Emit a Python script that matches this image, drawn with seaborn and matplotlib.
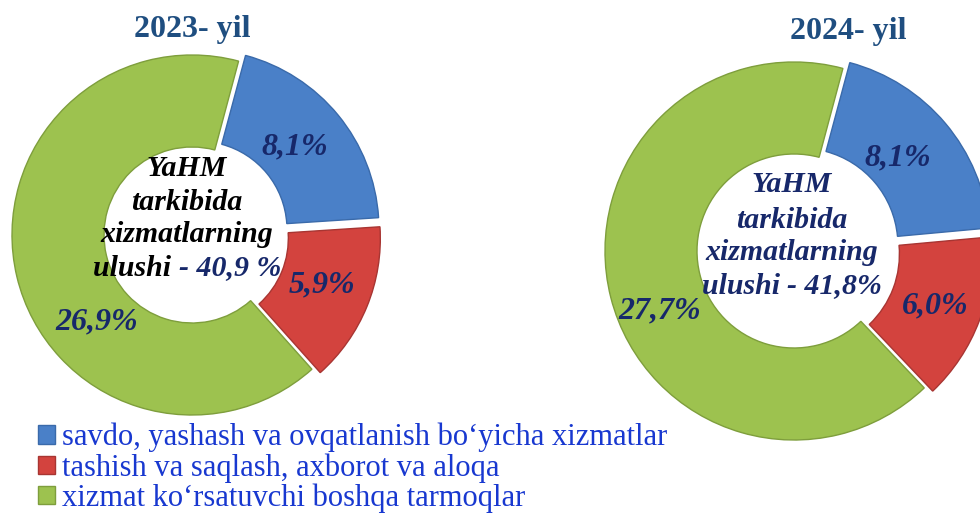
import matplotlib
matplotlib.use("Agg")
import matplotlib.pyplot as plt
from matplotlib.patches import Patch
import seaborn as sns

# data
categories = ["savdo, yashash va ovqatlanish bo\u2018yicha xizmatlar",
              "tashish va saqlash, axborot va aloqa",
              "xizmat ko\u2018rsatuvchi boshqa tarmoqlar"]
years = ["2023- yil", "2024- yil"]
shares_2023 = [8.1, 5.9, 26.9]
shares_2024 = [8.1, 6.0, 27.7]
pct_2023 = ["8,1%", "5,9%", "26,9%"]
pct_2024 = ["8,1%", "6,0%", "27,7%"]
center_lines = ["YaHM", "tarkibida", "xizmatlarning", "ulushi"]
totals = ["- 40,9 %", "- 41,8%"]

W, H = 980, 517
colors = ["#4A80C8", "#D3433E", "#9DC24F"]
edges = ["#3A6AAA", "#A83532", "#7E9E3C"]
navy = "#17286A"
title_col = "#1F4E80"
legend_col = "#1838D0"

# layout (pixel coords, y from top)
layout = [
    dict(c=(192, 235), R=180, r=88, title=(192, 30),
         labels=[(295, 147), (322, 285), (97, 322)],
         text_x=187, text_y=[168, 202, 235, 268], first_col="black"),
    dict(c=(794, 251), R=189, r=97, title=(848, 32),
         labels=[(898, 158), (935, 306), (660, 311)],
         text_x=792, text_y=[185, 220, 253, 286], first_col=navy),
]

sns.set_theme(style="white")
plt.rcParams["font.family"] = ["Liberation Serif", "DejaVu Serif"]

fig = plt.figure(figsize=(W / 100, H / 100), dpi=100)
ax = fig.add_axes([0, 0, 1, 1])


def py(y):
    return H - y


for vals, pcts, year, total, lay in zip([shares_2023, shares_2024], [pct_2023, pct_2024],
                                        years, totals, layout):
    cx, cy = lay["c"]
    R, r = lay["R"], lay["r"]
    # explode is in data units here (pixels)
    wedges, _ = ax.pie(vals, colors=colors, startangle=75, counterclock=False,
                       center=(cx, py(cy)), radius=R, explode=[9, 9, 0],
                       wedgeprops=dict(width=R - r, linewidth=1.0))
    for w, ec in zip(wedges, edges):
        w.set_edgecolor(ec)

    for (lx, ly), t in zip(lay["labels"], pcts):
        ax.text(lx, py(ly), t, ha="center", va="center", fontsize=23,
                fontweight="bold", fontstyle="italic", color=navy)

    tx, ty = lay["title"]
    ax.text(tx, py(ty), year, ha="center", va="center", fontsize=23,
            fontweight="bold", color=title_col)

    for line, ly in zip(center_lines[:-1], lay["text_y"][:-1]):
        ax.text(lay["text_x"], py(ly), line, ha="center", va="center", fontsize=21.5,
                fontweight="bold", fontstyle="italic", color=lay["first_col"])

    # last line: "ulushi" + total in navy, centred as one line
    ly = py(lay["text_y"][-1])
    t1 = ax.text(0, ly, center_lines[-1] + " ", ha="left", va="center", fontsize=21.5,
                 fontweight="bold", fontstyle="italic", color=lay["first_col"])
    t2 = ax.text(0, ly, total, ha="left", va="center", fontsize=21.5,
                 fontweight="bold", fontstyle="italic", color=navy)
    rend = fig.canvas.get_renderer()
    w1 = t1.get_window_extent(rend).width
    w2 = t2.get_window_extent(rend).width
    x0 = lay["text_x"] - (w1 + w2) / 2
    t1.set_x(x0)
    t2.set_x(x0 + w1)

ax.set_xlim(0, W)
ax.set_ylim(0, H)
ax.set_aspect("equal")
ax.axis("off")

handles = [Patch(facecolor=c, edgecolor=e, linewidth=1) for c, e in zip(colors, edges)]
fig.legend(handles, categories, loc="upper left", bbox_to_anchor=(38 / W, 1 - 423 / H),
           frameon=False, fontsize=22, labelcolor=legend_col, handlelength=0.55,
           handleheight=0.55, handletextpad=0.25, labelspacing=0.02,
           borderpad=0, borderaxespad=0)

fig.savefig("out.png", dpi=100)
